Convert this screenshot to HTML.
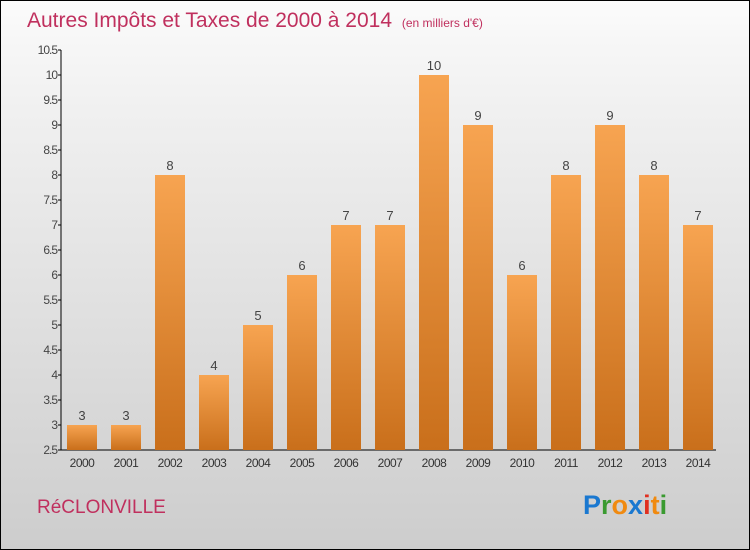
<!DOCTYPE html>
<html><head><meta charset="utf-8"><style>
body{margin:0}
#c{width:748px;height:548px;border:1px solid #000;background:linear-gradient(#fbfbfb,#f0f0f0 20%,#cdcdcd);position:relative;overflow:hidden;font-family:"Liberation Sans",sans-serif}
</style></head><body>
<div id="c">
<svg id="s" width="748" height="548">
<defs><linearGradient id="g" x1="0" y1="0" x2="0" y2="1"><stop offset="0" stop-color="#f7a451"/><stop offset="1" stop-color="#c96f1b"/></linearGradient></defs>
<text x="26" y="26" font-size="21" fill="#c0305e">Autres Impôts et Taxes de 2000 à 2014 <tspan font-size="12" dx="4">(en milliers d'€)</tspan></text>
<text x="36" y="512" font-size="19" fill="#c0305e">RéCLONVILLE</text>
<text x="582" y="513" font-size="27" font-weight="bold"><tspan fill="#1a78d0">P</tspan><tspan fill="#3a9a30">r</tspan><tspan fill="#f08a10">o</tspan><tspan fill="#1a78d0">x</tspan><tspan fill="#e03020">i</tspan><tspan fill="#f08a10">t</tspan><tspan fill="#3a9a30">i</tspan></text>
<g id="ax"></g><g id="bars"></g>
</svg></div>
<script>
const years=["2000","2001","2002","2003","2004","2005","2006","2007","2008","2009","2010","2011","2012","2013","2014"];
const values=[3,3,8,4,5,6,7,7,10,9,6,8,9,8,7];
const ticks=[2.5,3,3.5,4,4.5,5,5.5,6,6.5,7,7.5,8,8.5,9,9.5,10,10.5];
const ns="http://www.w3.org/2000/svg";
function y(v){return 449-(v-2.5)*50;}
function x(i){return 81+44*i;}
function mk(t,a,p){const e=document.createElementNS(ns,t);for(const k in a)e.setAttribute(k,a[k]);p.appendChild(e);return e;}
const ax=document.getElementById('ax'),bg=document.getElementById('bars');
let l=mk('line',{x1:60,y1:49,x2:60,y2:449,stroke:'#000'},ax);


l=mk('line',{x1:60,y1:449,x2:715,y2:449,stroke:'#000'},ax);


ticks.forEach(t=>{mk('line',{x1:57,y1:y(t),x2:60,y2:y(t),stroke:'#000'},ax);
const tx=mk('text',{x:56,y:y(t)+4,'font-size':12,fill:'#444','text-anchor':'end','letter-spacing':'-1'},ax);tx.textContent=String(t);

});
years.forEach((yr,i)=>{const v=values[i];
const r=mk('rect',{x:x(i)-15,y:y(v),width:30,height:449-y(v),fill:'url(#g)'},bg);


const lb=mk('text',{x:x(i),y:y(v)-5,'font-size':13,fill:'#444','text-anchor':'middle'},bg);lb.textContent=String(v);


const xl=mk('text',{x:x(i),y:466,'font-size':12,fill:'#333','text-anchor':'middle','letter-spacing':'-0.5'},bg);xl.textContent=yr;

});
</script>
</body></html>
